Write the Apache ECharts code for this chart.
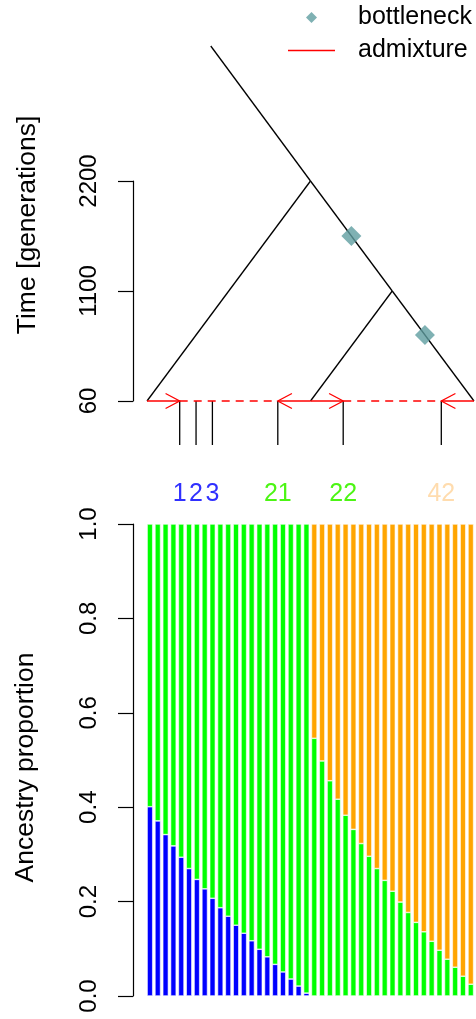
<!DOCTYPE html>
<html><head><meta charset="utf-8">
<script src="https://cdn.jsdelivr.net/npm/echarts@6/dist/echarts.min.js"></script>
<style>html,body{margin:0;padding:0;background:#fff}#c{width:476px;height:1019px}</style>
</head><body><div id="c"></div>
<script>
// ---------------- data ----------------
// Tree (top panel): x = position in tree, y = time axis units
const timeTicks = [0, 1100, 2200];
const timeTickLabels = ['60', '1100', '2200'];
const popX = [1, 2, 3];                 // leaves of the three source populations
const rootTop = [1.39, 3550];
const nodeABC = [2, 2200];
const nodeBC = [2.5, 1100];
const bottleneckX = [2.25, 2.7];
const bottleneckT = [1650, 660];
const sampleLabels = ['1', '2', '3', '21', '22', '42'];
const sampleX = [1.2, 1.3, 1.4, 1.8, 2.2, 2.8];
const sampleColors = ['#3030ff', '#3030ff', '#3030ff', '#4cf514', '#4cf514', '#ffdcae'];
const sampleTickEnd = -440;
const sampleLabelT = -930;
// admixture pulses: from population leaf to sample position (arrow at sample)
const admixFrom = [1, 2, 2, 3];
const admixTo = [1.2, 1.8, 2.2, 2.8];
const admixDashFrom = [1.2, 2.2];
const admixDashTo = [1.8, 2.8];

// Bars (bottom panel): 42 individuals
const individuals = Array.from({length: 42}, (_, i) => String(i + 1));
const proportionTicks = [0, 0.2, 0.4, 0.6, 0.8, 1.0];
const blueAnc = [0.401,0.371,0.342,0.318,0.294,0.270,0.247,0.227,0.207,0.187,0.169,0.150,0.133,0.117,0.099,0.083,0.067,0.051,0.036,0.021,0.006,
  null,null,null,null,null,null,null,null,null,null,null,null,null,null,null,null,null,null,null,null,null];
const greenAnc = [0.599,0.629,0.658,0.682,0.706,0.730,0.753,0.773,0.793,0.813,0.831,0.850,0.867,0.883,0.901,0.917,0.933,0.949,0.964,0.979,0.994,
  0.546,0.498,0.456,0.417,0.383,0.353,0.323,0.296,0.270,0.245,0.222,0.199,0.177,0.156,0.136,0.116,0.097,0.078,0.061,0.042,0.025];
const orangeAnc = [null,null,null,null,null,null,null,null,null,null,null,null,null,null,null,null,null,null,null,null,null,
  0.454,0.502,0.544,0.583,0.617,0.647,0.677,0.704,0.730,0.755,0.778,0.801,0.823,0.844,0.864,0.884,0.903,0.922,0.939,0.958,0.975];

// ---------------- chart ----------------
const FONT = "'Liberation Sans', Arial, Helvetica, sans-serif";
const treeSegments = [
  [rootTop[0], rootTop[1], nodeABC[0], nodeABC[1]],
  [nodeABC[0], nodeABC[1], popX[0], 0],
  [nodeABC[0], nodeABC[1], nodeBC[0], nodeBC[1]],
  [nodeBC[0], nodeBC[1], popX[1], 0],
  [nodeBC[0], nodeBC[1], popX[2], 0]
].concat(sampleX.map(x => [x, 0, x, sampleTickEnd]));

const chart = echarts.init(document.getElementById('c'), null, {renderer: 'canvas'});

function yAxisBase() {
  return {
    type: 'value',
    axisLine: {show: true, lineStyle: {color: '#000', width: 1.2}},
    axisTick: {show: true, length: 15, inside: false, lineStyle: {color: '#000', width: 1.2}},
    axisLabel: {show: true, rotate: 90, margin: 32, fontSize: 24, color: '#000', fontFamily: FONT,
                showMinLabel: true, showMaxLabel: true, hideOverlap: false},
    splitLine: {show: false},
    nameLocation: 'middle', nameRotate: 90,
  };
}

const yTree = Object.assign(yAxisBase(), {
  gridIndex: 0, min: 0, max: 2200, interval: 1100, offset: 14,
  name: 'Time [generations]', nameGap: 92,
  nameTextStyle: {fontSize: 26.5, color: '#000', fontFamily: FONT, padding: [0, 0, 0, 132]},
});
yTree.axisLabel.formatter = v => timeTickLabels[timeTicks.indexOf(v)];

const yBar = Object.assign(yAxisBase(), {
  gridIndex: 1, min: 0, max: 1, interval: 0.2, offset: 13,
  name: 'Ancestry proportion', nameGap: 94,
  nameTextStyle: {fontSize: 26.5, color: '#000', fontFamily: FONT, padding: [0, 15, 0, 0]},
});
yBar.axisLabel.formatter = v => v.toFixed(1);

function arrowRender(withHead, dashed) {
  return function (params, api) {
    const y = 0;
    const p1 = api.coord([api.value(0), y]);
    const p2 = api.coord([api.value(1), y]);
    const children = [{
      type: 'line', shape: {x1: p1[0], y1: p1[1], x2: p2[0], y2: p2[1]},
      style: {stroke: '#ff0000', lineWidth: 1.3, lineDash: dashed ? [8, 6] : null}
    }];
    if (withHead) {
      const dir = p2[0] > p1[0] ? 1 : -1;
      const L = 16, a = 28 * Math.PI / 180;
      const dx = -dir * L * Math.cos(a), dy = L * Math.sin(a);
      children.push({type: 'polyline', shape: {points: [[p2[0] + dx, p2[1] - dy], [p2[0], p2[1]], [p2[0] + dx, p2[1] + dy]]},
        style: {stroke: '#ff0000', lineWidth: 1.3, fill: null}});
    }
    return {type: 'group', children};
  };
}

const option = {
  backgroundColor: '#fff',
  animation: false,
  textStyle: {fontFamily: FONT},
  legend: {
    orient: 'vertical', left: 288, top: 5, padding: 0,
    itemWidth: 47, itemHeight: 11, itemGap: 8, selectedMode: false,
    textStyle: {fontSize: 25, color: '#000', fontFamily: FONT, padding: [0, 0, 0, 18]},
    data: [
      {name: 'bottleneck', icon: 'path://M5,0L10,5L5,10L0,5Z', itemStyle: {color: '#5f9ea0'}},
      {name: 'admixture', icon: 'path://M0,0H47V1.4H0Z', itemStyle: {color: '#ff0000'}}
    ]
  },
  grid: [
    {left: 147, right: 2, top: 181, bottom: 1019 - 401},
    {left: 146, right: 1.3, top: 524, bottom: 1019 - 996}
  ],
  xAxis: [
    {type: 'value', gridIndex: 0, min: 1, max: 3, show: false},
    {type: 'category', gridIndex: 1, data: individuals, show: false}
  ],
  yAxis: [yTree, yBar],
  series: [
    {
      type: 'custom', name: 'tree', xAxisIndex: 0, yAxisIndex: 0, clip: false, silent: true,
      data: treeSegments, encode: {x: [0, 2], y: [1, 3]},
      renderItem: (params, api) => {
        const p1 = api.coord([api.value(0), api.value(1)]);
        const p2 = api.coord([api.value(2), api.value(3)]);
        return {type: 'line', shape: {x1: p1[0], y1: p1[1], x2: p2[0], y2: p2[1]},
          style: {stroke: '#000', lineWidth: 1.3}};
      }
    },
    {
      type: 'custom', name: 'admixture', xAxisIndex: 0, yAxisIndex: 0, clip: false, silent: true,
      itemStyle: {color: '#ff0000'},
      data: admixFrom.map((f, i) => [f, admixTo[i]]), encode: {x: [0, 1]},
      renderItem: arrowRender(true, false)
    },
    {
      type: 'custom', name: 'admixture', xAxisIndex: 0, yAxisIndex: 0, clip: false, silent: true,
      itemStyle: {color: '#ff0000'},
      data: admixDashFrom.map((f, i) => [f, admixDashTo[i]]), encode: {x: [0, 1]},
      renderItem: arrowRender(false, true)
    },
    {
      type: 'scatter', name: 'bottleneck', xAxisIndex: 0, yAxisIndex: 0,
      symbol: 'diamond', symbolSize: [20, 20], itemStyle: {color: '#5f9ea0'},
      data: bottleneckX.map((x, i) => [x, bottleneckT[i]]), z: 5
    },
    {
      type: 'custom', name: 'samples', xAxisIndex: 0, yAxisIndex: 0, clip: false, silent: true,
      data: sampleX.map((x, i) => [x, sampleLabelT, i]), encode: {x: 0, y: 1},
      renderItem: (params, api) => {
        const p = api.coord([api.value(0), api.value(1)]);
        const i = api.value(2);
        return {type: 'text', x: p[0], y: p[1],
          style: {text: sampleLabels[i], fill: sampleColors[i], fontSize: 25, fontFamily: FONT,
                  align: 'center', verticalAlign: 'middle'}};
      }
    },
    {type: 'bar', name: 'blue', xAxisIndex: 1, yAxisIndex: 1, stack: 'anc', data: blueAnc,
     barCategoryGap: '28%', itemStyle: {color: '#0000ff', borderColor: '#fff', borderWidth: 0.6}},
    {type: 'bar', name: 'green', xAxisIndex: 1, yAxisIndex: 1, stack: 'anc', data: greenAnc,
     barCategoryGap: '28%', itemStyle: {color: '#00ff00', borderColor: '#fff', borderWidth: 0.6}},
    {type: 'bar', name: 'orange', xAxisIndex: 1, yAxisIndex: 1, stack: 'anc', data: orangeAnc,
     barCategoryGap: '28%', itemStyle: {color: '#ffa500', borderColor: '#fff', borderWidth: 0.6}}
  ]
};
chart.setOption(option);
</script></body></html>
